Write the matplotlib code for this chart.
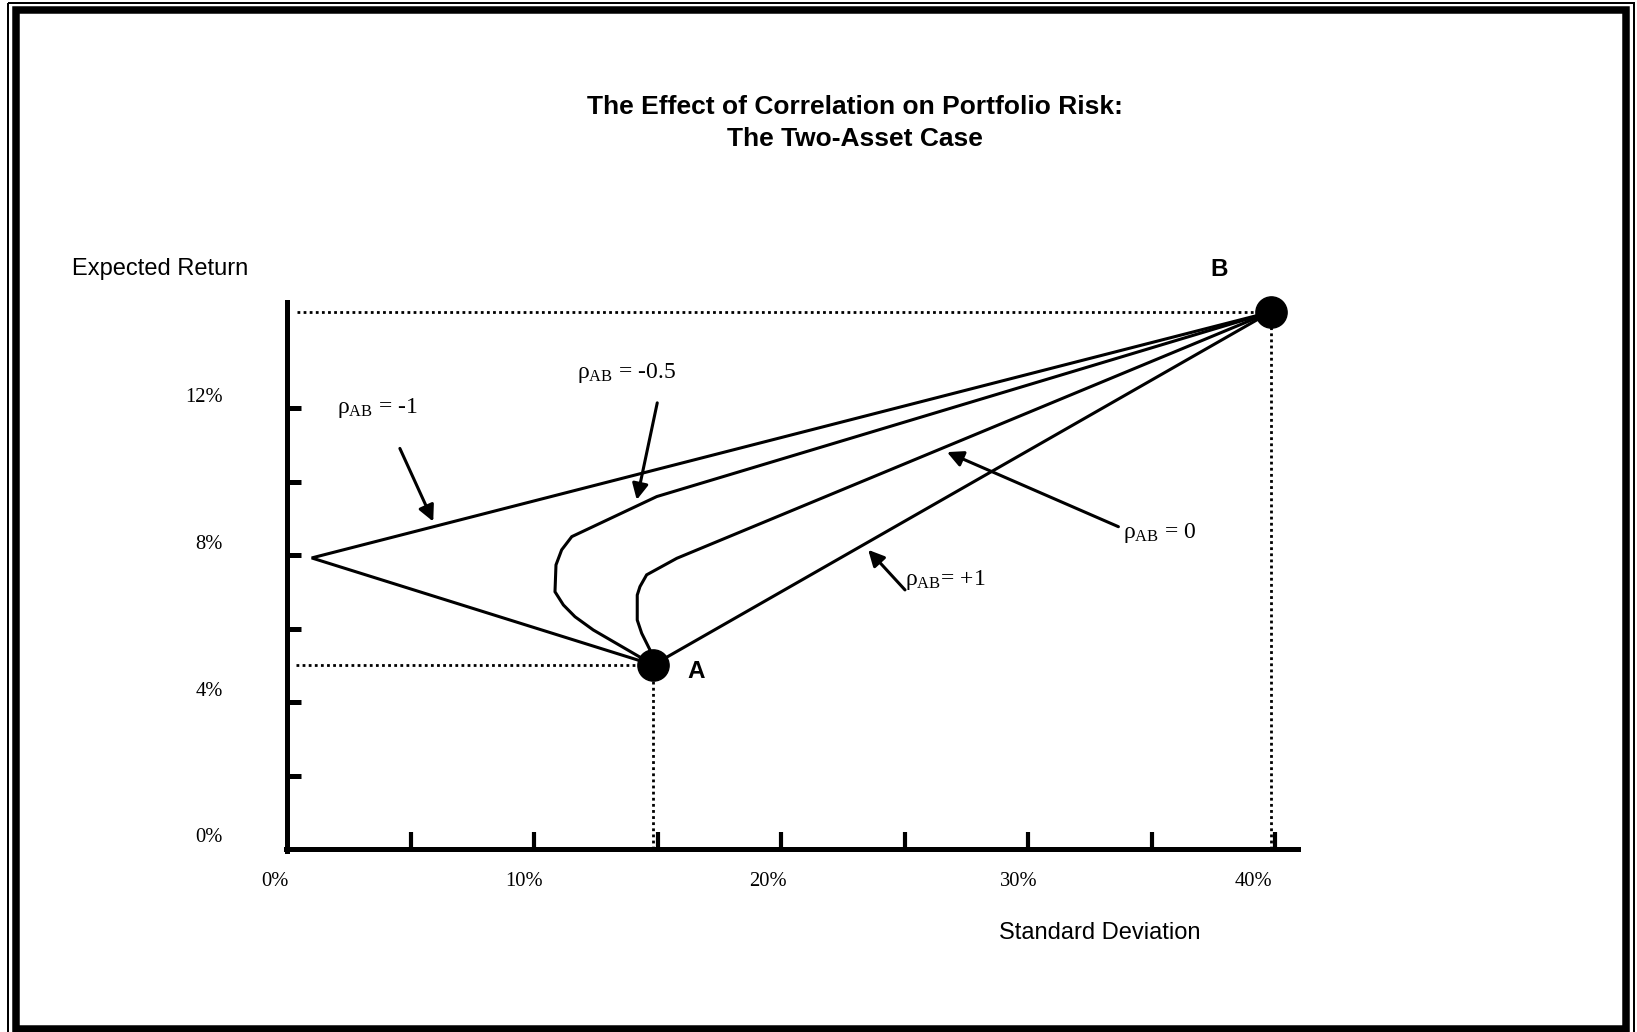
"""Two-asset portfolio risk vs correlation diagram (schematic)."""
import matplotlib; matplotlib.use("Agg")
import matplotlib.pyplot as plt
from matplotlib.patches import Rectangle

plt.rcParams.update({"mathtext.fontset": "custom", "mathtext.rm": "Liberation Serif",
                     "mathtext.it": "Liberation Serif:italic", "mathtext.bf": "Liberation Serif:bold"})
INK = "black"
SERIF = "Liberation Serif"; SANS = "Liberation Sans"

# --- data (std dev %, expected return %) ---
asset_a = (14.83, 5.01)
asset_b = (39.82, 14.61)
rho_m1_x = [39.82, 1.00, 14.83]
rho_m1_y = [14.61, 7.92, 5.01]
rho_m05_x = [39.82, 14.97, 11.53, 11.12, 10.89, 10.85, 11.19, 11.66, 12.40, 14.83]
rho_m05_y = [14.61, 9.59, 8.50, 8.14, 7.73, 7.00, 6.64, 6.32, 5.96, 5.01]
rho_0_x = [39.82, 15.78, 14.56, 14.29, 14.18, 14.18, 14.36, 14.70, 14.83]
rho_0_y = [14.61, 7.91, 7.46, 7.14, 6.91, 6.23, 5.87, 5.41, 5.01]
rho_p1_x = [14.83, 39.82]
rho_p1_y = [5.01, 14.61]

xticks = [5, 10, 15, 20, 25, 30, 35, 40]
yticks = [2, 4, 6, 8, 10, 12]
xlabels = [0, 10, 20, 30, 40]
ylabels = [0, 4, 8, 12]

# labels: text, anchor (left, centre), arrow tail, arrow tip
rho_labels = ["ρ$_{\\mathrm{AB}}$ = -1", "ρ$_{\\mathrm{AB}}$ = -0.5", "ρ$_{\\mathrm{AB}}$ = 0", "ρ$_{\\mathrm{AB}}$= +1"]
rho_text_at = [(2.01, 12.0), (11.73, 12.95), (33.85, 8.60), (25.02, 7.32)]
arrow_tail = [(4.57, 10.90), (14.99, 12.14), (33.66, 8.77), (25.02, 7.05)]
arrow_tip = [(5.92, 8.91), (14.16, 9.50), (26.72, 10.80), (23.53, 8.14)]

# --- layout (pixels of the 1637x1032 canvas) ---
W, H = 1637, 1032
X0, SX, Y0, SY = 287, 24.7, 849, 36.75
fig = plt.figure(figsize=(W / 100, H / 100), dpi=100)

fr = fig.add_axes([0, 0, 1, 1]); fr.set_xlim(0, W); fr.set_ylim(H, 0); fr.axis("off")
fr.add_patch(Rectangle((7.5, 2.5), 1626.5, 1040, fill=False, lw=1.44, ec=INK))
fr.add_patch(Rectangle((15.5, 10), 1610.5, 1018.5, fill=False, lw=5.4, ec=INK))

ax = fig.add_axes([0, 0, 1, 1]); ax.patch.set_visible(False)
ax.set_xlim(-X0 / SX, (W - X0) / SX); ax.set_ylim((Y0 - H) / SY, Y0 / SY)
for s in ("top", "right"): ax.spines[s].set_visible(False)
ax.spines["left"].set_position(("data", 0)); ax.spines["left"].set_bounds(-0.05, 14.88)
ax.spines["bottom"].set_position(("data", 0)); ax.spines["bottom"].set_bounds(-0.05, 40.94)
for s in ("left", "bottom"): ax.spines[s].set_linewidth(3.6)
ax.set_xticks(xticks); ax.set_yticks(yticks)
ax.tick_params(axis="x", direction="in", length=12.5, width=3.0, labelbottom=False)
ax.tick_params(axis="y", direction="in", length=10, width=3.6, labelleft=False)

# dotted guides
dot = dict(color=INK, lw=2.0, ls=(0, (1, 1.2)), zorder=1)
ax.plot([0.4, asset_b[0]], [asset_b[1], asset_b[1]], **dot)
ax.plot([asset_b[0], asset_b[0]], [0, asset_b[1]], **dot)
ax.plot([0.35, asset_a[0]], [asset_a[1], asset_a[1]], **dot)
ax.plot([asset_a[0], asset_a[0]], [0, asset_a[1]], **dot)

for xs, ys in [(rho_m1_x, rho_m1_y), (rho_m05_x, rho_m05_y), (rho_0_x, rho_0_y), (rho_p1_x, rho_p1_y)]:
    ax.plot(xs, ys, color=INK, lw=2.2, solid_joinstyle="miter", zorder=3)
ax.plot(*zip(asset_a, asset_b), "o", ms=22.5, color=INK, zorder=5, lw=0)

for t, p, a, b in zip(rho_labels, rho_text_at, arrow_tail, arrow_tip):
    ax.text(p[0], p[1], t, fontsize=17, family=SERIF, ha="left", va="center")
    ax.annotate("", xy=b, xytext=a, arrowprops=dict(arrowstyle="-|>", lw=2.2, color=INK,
                mutation_scale=24, shrinkA=0, shrinkB=0))

# tick labels sit a little off the ticks, as in the source
xoff = [-12, -10, -13, -9, -22]
for v, dx in zip(xlabels, xoff):
    ax.annotate(f"{v}%", (v, 0), xytext=(dx, -32), textcoords="offset pixels",
                ha="center", va="center", fontsize=14.8, family=SERIF)
for v in ylabels:
    ax.annotate(f"{v}%", (0, v), xytext=(-64, 11), textcoords="offset pixels",
                ha="right", va="center", fontsize=14.8, family=SERIF)

def ftext(x, y, s, **kw):
    fig.text(x / W, 1 - y / H, s, va="center", **kw)

ftext(855, 107.5, "The Effect of Correlation on Portfolio Risk:", ha="center", fontsize=19, weight="bold", family=SANS)
ftext(855, 139, "The Two-Asset Case", ha="center", fontsize=19, weight="bold", family=SANS)
ftext(72, 269, "Expected Return", ha="left", fontsize=17, family=SANS)
ftext(1100, 933, "Standard Deviation", ha="center", fontsize=17, family=SANS)
ftext(1219, 270, "B", ha="center", fontsize=17.5, weight="bold", family=SANS)
ftext(696, 671, "A", ha="center", fontsize=17.5, weight="bold", family=SANS)

fig.savefig("out.png", dpi=100, facecolor="white")
